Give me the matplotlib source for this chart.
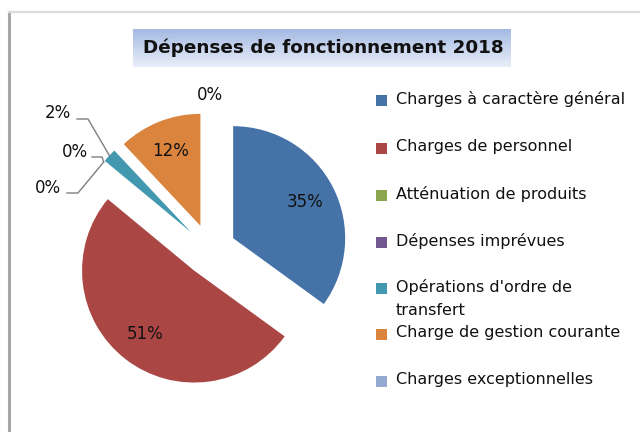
import numpy as np
import matplotlib.pyplot as plt
from matplotlib.patches import Rectangle
from matplotlib.colors import LinearSegmentedColormap

# chart data
categories = ["Charges à caractère général", "Charges de personnel",
              "Atténuation de produits", "Dépenses imprévues",
              "Opérations d'ordre de\ntransfert", "Charge de gestion courante",
              "Charges exceptionnelles"]
shares = [35, 51, 0, 0, 2, 12, 0]
colors = ["#4572A7", "#AA4643", "#89A54E", "#71588F", "#4198AF", "#DB843D", "#93A9CF"]
title = "Dépenses de fonctionnement 2018"

W, H = 640, 432
fig = plt.figure(figsize=(6.4, 4.32), dpi=100)

# outer frame (chart area border)
frame = fig.add_axes([0, 0, 1, 1])
frame.set_xlim(0, W)
frame.set_ylim(H, 0)
frame.axis("off")
frame.plot([9, 9], [12, H], color="#a6a6a6", lw=2.2)
frame.plot([9, W], [12, 12], color="#dcdcdc", lw=1.6)

# title box with gradient
tb = fig.add_axes([133 / W, 1 - 67 / H, 378 / W, 38 / H])
grad = np.linspace(0, 1, 64).reshape(-1, 1)
cmap = LinearSegmentedColormap.from_list("tb", ["#a3b9e3", "#e9eef8"])
tb.imshow(grad, aspect="auto", cmap=cmap, extent=[0, 1, 0, 1])
tb.axis("off")
fig.text(323 / W, 1 - 48 / H, title, ha="center", va="center",
         fontsize=13.2, fontweight="bold", color="#111111")

# pie
cx, cy, half = 210, 250, 180
ax = fig.add_axes([(cx - half) / W, (H - cy - half) / H, 2 * half / W, 2 * half / H])
R = 1.12
ex = 0.26
wedges, _ = ax.pie(shares, colors=colors, startangle=90, counterclock=False,
                   radius=R, explode=[ex] * len(shares),
                   wedgeprops=dict(linewidth=0))
ax.set_xlim(-1.8, 1.8)
ax.set_ylim(-1.8, 1.8)
ax.set_aspect("auto")

total = float(sum(shares))
start = 0.0
mids = []
for v in shares:
    mids.append(start + v / total * 360.0 / 2)
    start += v / total * 360.0

def direction(deg):
    a = np.deg2rad(deg)
    return np.sin(a), np.cos(a)

# labels inside the big slices
for i, v in enumerate(shares):
    if v >= 10:
        dx, dy = direction(mids[i])
        d = ex + 0.72 * R
        ax.text(d * dx, d * dy, f"{v}%", ha="center", va="center",
                fontsize=12, color="#111111")

# outside labels with leader lines for the small slices
outside = {4: (-1.52, 1.37, [(-1.33, 1.31), (-1.22, 1.31)]),
           2: (-1.35, 0.98, [(-1.18, 0.93), (-1.08, 0.93)]),
           3: (-1.62, 0.62, [(-1.43, 0.57), (-1.32, 0.57)])}
for i, (lx, ly, pts) in outside.items():
    dx, dy = direction(mids[i])
    d = ex + R
    xs = [p[0] for p in pts] + [d * dx]
    ys = [p[1] for p in pts] + [d * dy]
    ax.plot(xs, ys, color="#7f7f7f", lw=1.0)
    ax.text(lx, ly, f"{shares[i]}%", ha="center", va="center",
            fontsize=12, color="#111111")
# last zero slice, on top
ax.text(0, 1.55, f"{shares[6]}%", ha="center", va="center",
        fontsize=12, color="#111111")

# legend, drawn by hand
rows = [100, 148, 195, 242, 288, 334, 381]
for lab, col, ry in zip(categories, colors, rows):
    frame.add_patch(Rectangle((376, ry - 5.5), 11, 11, color=col, lw=0))
    frame.text(396, ry - 9, lab, ha="left", va="top", fontsize=11.5,
               color="#111111", linespacing=1.65)

fig.savefig("out.png", dpi=100)
